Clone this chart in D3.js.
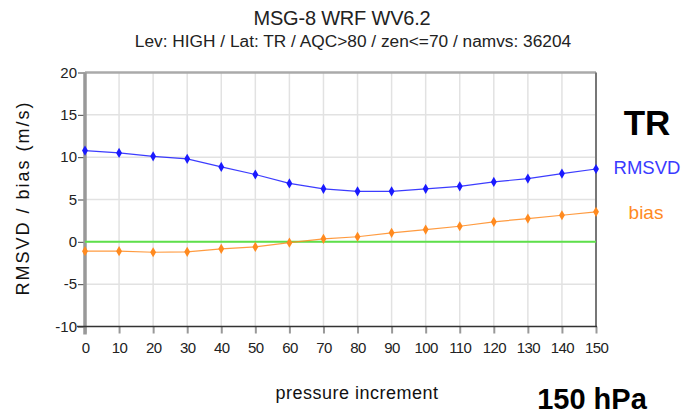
<!DOCTYPE html>
<html>
<head>
<meta charset="utf-8">
<script src="https://cdnjs.cloudflare.com/ajax/libs/d3/7.8.5/d3.min.js"></script>
<style>
  body { margin: 0; background: #fff; }
  text { font-family: "Liberation Sans", Arial, sans-serif; }
</style>
</head>
<body>
<div id="chart"></div>
<script>
// data
var increments = [0, 10, 20, 30, 40, 50, 60, 70, 80, 90, 100, 110, 120, 130, 140, 150];
var rmsvd = [10.78, 10.5, 10.1, 9.8, 8.85, 7.95, 6.9, 6.26, 5.97, 5.97, 6.26, 6.56, 7.08, 7.47, 8.06, 8.6];
var bias = [-1.1, -1.1, -1.23, -1.18, -0.83, -0.6, -0.1, 0.35, 0.6, 1.06, 1.45, 1.84, 2.36, 2.75, 3.14, 3.54];
var yTicks = [-10, -5, 0, 5, 10, 15, 20];

var W = 682, H = 416;
var margin = { top: 72.5, left: 85, right: 86, bottom: 89.5 };
var width = W - margin.left - margin.right,
    height = H - margin.top - margin.bottom;

var svg = d3.select("#chart").append("svg")
    .attr("width", W).attr("height", H);

var g = svg.append("g")
    .attr("transform", "translate(" + margin.left + "," + margin.top + ")");

var x = d3.scaleLinear().domain([0, 150]).range([0, width]);
var y = d3.scaleLinear().domain([-10, 20]).range([height, 0]);

// gridlines
g.append("g").selectAll("line").data(increments.slice(1, -1)).enter().append("line")
  .attr("x1", function(d) { return x(d); }).attr("x2", function(d) { return x(d); })
  .attr("y1", 0).attr("y2", height)
  .attr("stroke", "#e2e2e2").attr("stroke-width", 1.5);
g.append("g").selectAll("line").data(yTicks.slice(1, -1)).enter().append("line")
  .attr("x1", 0).attr("x2", width)
  .attr("y1", function(d) { return y(d); }).attr("y2", function(d) { return y(d); })
  .attr("stroke", "#e2e2e2").attr("stroke-width", 1.5);

// frame
g.append("line").attr("x1", 0).attr("x2", width).attr("y1", 0).attr("y2", 0)
  .attr("stroke", "#aaa").attr("stroke-width", 2.5);
g.append("line").attr("x1", width).attr("x2", width).attr("y1", 0).attr("y2", height)
  .attr("stroke", "#777").attr("stroke-width", 2);

// axes
var yAxis = d3.axisLeft(y).tickValues(yTicks).tickSize(7).tickPadding(1)
  .tickFormat(function(d) { return String(d); });
var gy = g.append("g").call(yAxis);
gy.select(".domain").remove();
gy.selectAll(".tick line").attr("stroke", "#444");
gy.selectAll(".tick text").attr("font-size", 15).attr("fill", "#222")
  .attr("font-family", "Liberation Sans, Arial, sans-serif");
g.append("line").attr("x1", 0).attr("x2", 0).attr("y1", 0).attr("y2", height + 8)
  .attr("stroke", "#999").attr("stroke-width", 3.5);

var xAxis = d3.axisBottom(x).tickValues(increments).tickSize(7).tickPadding(9);
var gx = g.append("g").attr("transform", "translate(0," + height + ")").call(xAxis);
gx.select(".domain").remove();
gx.selectAll(".tick line").attr("stroke", "#999").attr("stroke-width", 2);
gx.selectAll(".tick text").attr("font-size", 15).attr("fill", "#222")
  .attr("letter-spacing", -0.6)
  .attr("font-family", "Liberation Sans, Arial, sans-serif");
g.append("line").attr("x1", -8).attr("x2", width + 1).attr("y1", height).attr("y2", height)
  .attr("stroke", "#333").attr("stroke-width", 1.5);

// zero line
g.append("line").attr("x1", 0).attr("x2", width).attr("y1", y(0)).attr("y2", y(0))
  .attr("stroke", "#5ee04a").attr("stroke-width", 2);

// series
function drawSeries(vals, color) {
  var pts = increments.map(function(d, i) { return [d, vals[i]]; });
  var line = d3.line().x(function(d) { return x(d[0]); }).y(function(d) { return y(d[1]); });
  g.append("path").datum(pts).attr("d", line)
    .attr("fill", "none").attr("stroke", color).attr("stroke-width", 1.2).attr("opacity", 0.85);
  g.append("g").selectAll("path").data(pts).enter().append("path")
    .attr("d", d3.symbol().type(d3.symbolDiamond).size(30))
    .attr("transform", function(d) { return "translate(" + x(d[0]) + "," + y(d[1]) + ")"; })
    .attr("fill", color);
}
drawSeries(rmsvd, "#1a1aff");
drawSeries(bias, "#ff8a1f");

// titles
svg.append("text").attr("x", 342).attr("y", 25).attr("text-anchor", "middle")
  .attr("font-size", 20).attr("letter-spacing", -0.2).attr("fill", "#222").text("MSG-8 WRF WV6.2");
svg.append("text").attr("x", 353).attr("y", 47).attr("text-anchor", "middle")
  .attr("font-size", 17.3).attr("fill", "#222")
  .text("Lev: HIGH / Lat: TR / AQC>80 / zen<=70 / namvs: 36204");

svg.append("text").attr("transform", "translate(29,198) rotate(-90)")
  .attr("text-anchor", "middle").attr("font-size", 18).attr("letter-spacing", 2)
  .attr("fill", "#111").text("RMSVD / bias (m/s)");
svg.append("text").attr("x", 357).attr("y", 399).attr("text-anchor", "middle")
  .attr("font-size", 18).attr("letter-spacing", 0.5)
  .attr("fill", "#111").text("pressure increment");

svg.append("text").attr("x", 647).attr("y", 135).attr("text-anchor", "middle")
  .attr("font-size", 35).attr("font-weight", "bold").attr("fill", "#000").text("TR");
svg.append("text").attr("x", 647).attr("y", 174).attr("text-anchor", "middle")
  .attr("font-size", 18.5).attr("fill", "#3a3aff").text("RMSVD");
svg.append("text").attr("x", 646).attr("y", 219).attr("text-anchor", "middle")
  .attr("font-size", 19).attr("fill", "#ff8a1f").text("bias");
svg.append("text").attr("x", 592).attr("y", 409).attr("text-anchor", "middle")
  .attr("font-size", 29).attr("font-weight", "bold").attr("fill", "#000").text("150 hPa");
</script>
</body>
</html>
